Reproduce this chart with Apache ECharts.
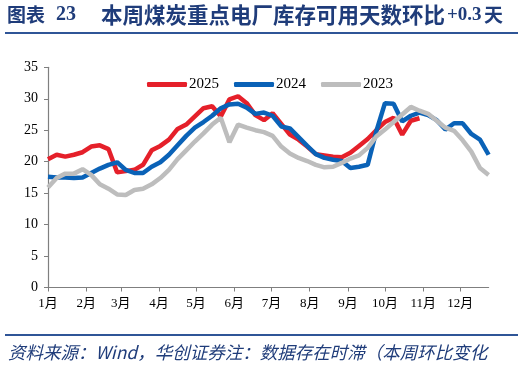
<!DOCTYPE html>
<html>
<head>
<meta charset="utf-8">
<script src="https://cdn.jsdelivr.net/npm/echarts@6/dist/echarts.min.js"></script>
<style>
html,body{margin:0;padding:0;background:#fff;}
#c{width:524px;height:371px;}
</style>
</head>
<body>
<div id="c"></div>
<script>
// week numbers of the year (weekly data)
const weeks = [1,2,3,4,5,6,7,8,9,10,11,12,13,14,15,16,17,18,19,20,21,22,23,24,25,26,
  27,28,29,30,31,32,33,34,35,36,37,38,39,40,41,42,43,44,45,46,47,48,49,50,51,52];
// month start (day of year) and labels
const monthStartDays = [0,31,59,90,120,151,181,212,243,273,304,334];
const monthLabels = ['1月','2月','3月','4月','5月','6月','7月','8月','9月','10月','11月','12月'];
const seriesNames = ['2025','2024','2023'];
const v2025 = [20.4,21.1,20.8,21.1,21.5,22.4,22.6,22.0,18.3,18.5,18.7,19.5,21.8,22.5,23.5,25.2,25.9,27.2,28.5,28.8,
  27.2,29.9,30.4,29.3,27.4,26.6,27.7,26.0,24.3,23.5,22.4,21.2,21.0,20.8,20.7,21.4,22.5,23.6,25.0,26.3,27.0,24.3,26.5,26.9];
const v2024 = [17.6,17.5,17.5,17.4,17.5,18.2,18.9,19.5,19.9,18.7,18.2,18.2,19.2,19.9,21.1,22.6,24.1,25.4,26.3,27.3,
  28.5,29.1,29.2,28.6,27.6,27.8,27.3,25.6,25.3,23.9,22.5,21.2,20.6,20.3,20.1,19.0,19.2,19.5,24.8,29.3,29.2,26.4,27.3,27.8,
  27.4,26.6,25.1,26.1,26.1,24.4,23.5,21.1];
const v2023 = [15.9,17.4,18.1,18.1,18.8,17.9,16.4,15.7,14.8,14.7,15.5,15.7,16.4,17.4,18.7,20.4,21.8,23.2,24.5,25.9,
  27.0,23.1,25.9,25.4,25.0,24.7,24.1,22.4,21.3,20.6,20.1,19.5,19.1,19.2,19.8,20.5,21.0,22.2,24.0,25.1,26.3,27.5,28.7,28.1,
  27.6,26.5,25.4,24.9,23.4,21.6,19.0,17.9];
const yTicks = [0,5,10,15,20,25,30,35];

const colors = ['#E5202A','#0A62B7','#BDBDBD'];
const toXY = vals => vals.map((v,i) => [(weeks[i]-1)*7, v]);
const serif = "'Times New Roman','Liberation Serif','Noto Sans CJK SC',serif";
const cjk = "'Times New Roman','Liberation Serif','Noto Sans CJK SC',sans-serif";

const chart = echarts.init(document.getElementById('c'), null, {renderer:'canvas'});
chart.setOption({
  animation:false,
  backgroundColor:'#fff',
  color: colors,
  grid:{left:48, right:35.4, top:67.3, bottom:83.5, containLabel:false},
  legend:{
    left:142, top:72, itemWidth:40, itemHeight:5, itemGap:15,
    icon:'roundRect',
    textStyle:{fontFamily:serif, fontSize:15, color:'#000', padding:[0,0,0,-3]},
    data: seriesNames
  },
  xAxis:{
    type:'value', min:0, max:(weeks[weeks.length-1]-1)*7,
    splitLine:{show:false},
    axisLine:{show:true, lineStyle:{color:'#7f7f7f', width:1.2}},
    axisTick:{show:true, customValues: monthStartDays, length:4, lineStyle:{color:'#7f7f7f'}},
    axisLabel:{customValues: monthStartDays, margin:10, fontFamily:cjk, fontSize:13, color:'#000',
      formatter: v => monthLabels[monthStartDays.indexOf(v)]}
  },
  yAxis:{
    type:'value', min:0, max:35, interval:5,
    splitLine:{show:false},
    axisLine:{show:true, lineStyle:{color:'#7f7f7f', width:1.2}},
    axisTick:{show:true, length:4, lineStyle:{color:'#7f7f7f'}},
    axisLabel:{margin:10, fontFamily:serif, fontSize:14, color:'#000',
      formatter: v => yTicks.includes(v) ? String(v) : ''}
  },
  series:[
    {name:seriesNames[0], type:'line', data:toXY(v2025), symbol:'none', lineStyle:{width:4.5, color:colors[0]}, itemStyle:{color:colors[0]}},
    {name:seriesNames[1], type:'line', data:toXY(v2024), symbol:'none', lineStyle:{width:4.5, color:colors[1]}, itemStyle:{color:colors[1]}},
    {name:seriesNames[2], type:'line', data:toXY(v2023), symbol:'none', lineStyle:{width:4.5, color:colors[2]}, itemStyle:{color:colors[2]}}
  ],
  graphic:[
    {type:'text', left:7, top:5, style:{text:'图表', fontFamily:"'Noto Sans CJK SC',sans-serif", fontWeight:'bold', fontSize:19, fill:'#1F3C7A'}},
    {type:'text', left:56, top:5, style:{text:'23', fontFamily:serif, fontWeight:'bold', fontSize:20, fill:'#1F3C7A'}},
    {type:'text', left:101, top:4, style:{text:'本周煤炭重点电厂库存可用天数环比', fontFamily:"'Noto Sans CJK SC',sans-serif", fontWeight:'bold', fontSize:21.5, fill:'#1F3C7A'}},
    {type:'text', left:447, top:6, style:{text:'+0.3', fontFamily:serif, fontWeight:'bold', fontSize:19, fill:'#1F3C7A'}},
    {type:'text', left:484, top:5, style:{text:'天', fontFamily:"'Noto Sans CJK SC',sans-serif", fontWeight:'bold', fontSize:19, fill:'#1F3C7A'}},
    {type:'rect', shape:{x:5, y:32, width:513, height:2}, style:{fill:'#2F5597'}},
    {type:'rect', shape:{x:5, y:334, width:513, height:2}, style:{fill:'#2F5597'}},
    {type:'text', left:8, top:344, style:{text:'资料来源：Wind，华创证券注：数据存在时滞（本周环比变化', fontFamily:"'Noto Sans CJK SC',sans-serif", fontStyle:'italic', fontSize:17.5, fill:'#1F3C7A'}}
  ]
});
</script>
</body>
</html>
